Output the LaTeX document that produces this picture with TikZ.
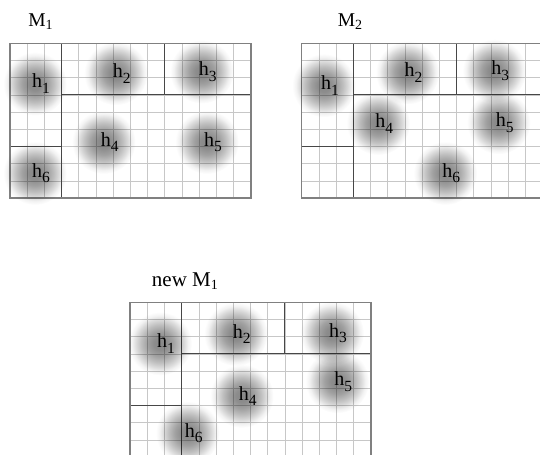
\documentclass[tikz,border=0pt]{standalone}
\usepackage{fontspec}
\setmainfont{Liberation Serif}
\usetikzlibrary{positioning}
\newcommand{\hsub}[1]{\raisebox{-0.28em}{\fontsize{15.5}{16}\selectfont#1}}
\newcommand{\msub}[1]{\raisebox{-0.15em}{\fontsize{14}{14}\selectfont#1}}
\pgfdeclareradialshading{blob}{\pgfpointorigin}{color(0bp)=(black!47); color(5bp)=(black!45); color(10bp)=(black!37); color(15bp)=(black!25); color(19bp)=(black!14); color(22bp)=(black!5); color(25bp)=(white); color(50bp)=(white)}
\tikzset{
    cellline/.style={draw=black!22, line width=0.6pt},
    border/.style={draw=black!50, line width=1.5pt},
    part/.style={draw=black!72, line width=1pt},
    hot/.style={shading=blob, blend mode=multiply},
    hlabel/.style={font=\fontsize{20}{22}\selectfont, inner sep=0pt},
    maplabel/.style={font=\fontsize{19.5}{21}\selectfont, inner sep=0pt},
}

\begin{document}
\begin{tikzpicture}[x=17.2pt, y=-17.2pt]
    \useasboundingbox (0,0) rectangle (31.395,26.453);
    \clip (0,0) rectangle (31.395,26.453);

    % map M1
    \begin{scope}[shift={(0.581,2.517)}]
        \foreach \i in {1,...,13} \draw[cellline] (\i,0) -- (\i,9);
        \foreach \j in {1,...,8} \draw[cellline] (0,\j) -- (14,\j);
        \draw[part] (3,0) -- (3,9) (3,3) -- (14,3) (9,0) -- (9,3) (0,6) -- (3,6);
        \draw[border] (0,0) rectangle (14,9);
        \foreach \n/\x/\y in {1/1.8/2.35, 2/6.5/1.75, 3/11.5/1.65, 4/5.8/5.75, 5/11.8/5.75, 6/1.8/7.55} {
            \shade[hot] (\x-0.35,\y) circle (1.85);
            \node[hlabel] (a\n) at (\x,\y) {h\hsub{\n}};
        }
    \end{scope}
    \node[maplabel] (ma) at (2.35,1.25) {M\msub{1}};

    % map M2
    \begin{scope}[shift={(17.54,2.517)}]
        \foreach \i in {1,...,13} \draw[cellline] (\i,0) -- (\i,9);
        \foreach \j in {1,...,8} \draw[cellline] (0,\j) -- (14,\j);
        \draw[part] (3,0) -- (3,9) (3,3) -- (14,3) (9,0) -- (9,3) (0,6) -- (3,6);
        \draw[border] (0,0) rectangle (14,9);
        \foreach \n/\x/\y in {1/1.64/2.45, 2/6.5/1.7, 3/11.55/1.6, 4/4.8/4.65, 5/11.8/4.6, 6/8.7/7.55} {
            \shade[hot] (\x-0.35,\y) circle (1.85);
            \node[hlabel] (b\n) at (\x,\y) {h\hsub{\n}};
        }
    \end{scope}
    \node[maplabel] (mb) at (20.35,1.25) {M\msub{2}};

    % merged map
    \begin{scope}[shift={(7.558,17.576)}]
        \foreach \i in {1,...,13} \draw[cellline] (\i,0) -- (\i,9);
        \foreach \j in {1,...,8} \draw[cellline] (0,\j) -- (14,\j);
        \draw[part] (3,0) -- (3,9) (3,3) -- (14,3) (9,0) -- (9,3) (0,6) -- (3,6);
        \draw[border] (0,0) rectangle (14,9);
        \foreach \n/\x/\y in {1/2.1/2.4, 2/6.5/1.85, 3/12.1/1.8, 4/6.85/5.45, 5/12.4/4.6, 6/3.7/7.6} {
            \shade[hot] (\x-0.35,\y) circle (1.85);
            \node[hlabel] (c\n) at (\x,\y) {h\hsub{\n}};
        }
    \end{scope}
    \node[maplabel, font=\fontsize{21}{23}\selectfont] (mc) at (10.75,16.35) {new M\msub{1}};
\end{tikzpicture}
\end{document}
